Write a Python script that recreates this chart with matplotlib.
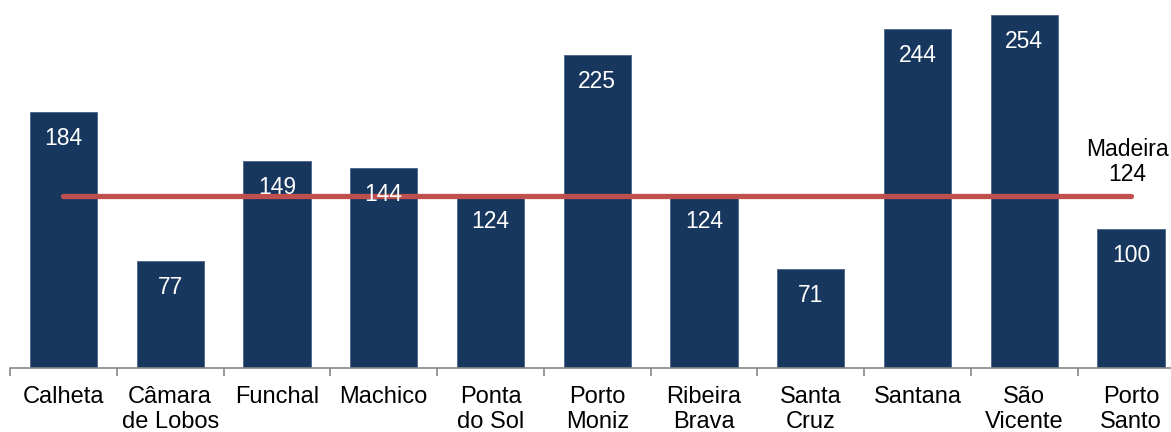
import matplotlib.pyplot as plt
import numpy as np

# Data
categories = ['Calheta', 'Câmara\nde Lobos', 'Funchal', 'Machico', 'Ponta\ndo Sol',
              'Porto\nMoniz', 'Ribeira\nBrava', 'Santa\nCruz', 'Santana', 'São\nVicente',
              'Porto\nSanto']
values = [184, 77, 149, 144, 124, 225, 124, 71, 244, 254, 100]
madeira = 124

plt.rcParams['font.family'] = ['Liberation Sans', 'DejaVu Sans']

fig = plt.figure(figsize=(11.71, 4.32), dpi=100, facecolor='w')
ax = fig.add_axes([10 / 1171, 64 / 432, 1174.5 / 1171, 368 / 432])

x = np.arange(len(categories))
ax.bar(x, values, width=0.63, color='#17375E', edgecolor='#4A6488', linewidth=0.6, zorder=2)

for xi, v in zip(x, values):
    ax.annotate(str(v), (xi, v), xytext=(0, -19), textcoords='offset points',
                ha='center', va='center', color='white', fontsize=16.5, zorder=4)

ax.plot([x[0], x[-1]], [madeira, madeira], color='#C0504D', lw=3.8,
        solid_capstyle='round', zorder=3)
ax.annotate('Madeira\n' + str(madeira), (x[-1], madeira), xytext=(-3, 7),
            textcoords='offset points', ha='center', va='bottom',
            multialignment='center', fontsize=16.5, linespacing=1.12)

ax.set_xlim(-0.5, len(categories) - 0.5)
ax.set_ylim(0, 264.7)
for s in ['top', 'right', 'left']:
    ax.spines[s].set_visible(False)
ax.spines['bottom'].set_color('#888888')
ax.spines['bottom'].set_linewidth(1.2)
ax.set_yticks([])
ax.set_xticks(x)
ax.set_xticklabels(categories, fontsize=17, linespacing=1.2)
ax.tick_params(axis='x', length=0, pad=13)
ax.set_xticks(np.arange(-0.5, len(categories)), minor=True)
ax.tick_params(axis='x', which='minor', length=6, width=1.2, color='#888888')

fig.savefig('out.png', dpi=100)
